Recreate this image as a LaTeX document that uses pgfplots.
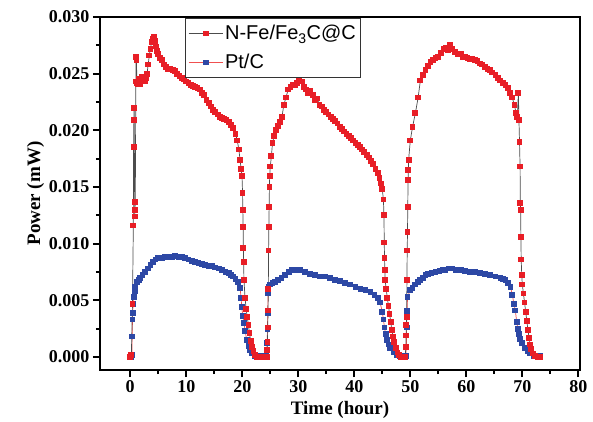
\documentclass[border=0pt]{standalone}
\usepackage{pgfplots}
\pgfplotsset{compat=1.18}
\usepackage{fontspec}
\setmainfont{Liberation Serif}
\newfontfamily\arial{Liberation Sans}
\definecolor{myred}{RGB}{232,30,38}
\definecolor{myblue}{RGB}{45,72,165}
\definecolor{lred}{RGB}{240,80,80}
\begin{document}
\begin{tikzpicture}
\begin{axis}[
  at={(0,0)}, anchor=south west,
  scale only axis, width=480pt, height=353pt,
  xmin=-5.4, xmax=80.3, ymin=-0.00115, ymax=0.030,
  axis line style={line width=2.2pt},
  xtick={0,10,...,80}, ytick={0,0.005,...,0.030},
  minor x tick num=1, minor y tick num=1,
  tick align=outside, tick pos=left,
  major tick length=7pt, minor tick length=4pt,
  every tick/.style={black, line width=1.8pt},
  scaled y ticks=false,
  yticklabel style={/pgf/number format/.cd, fixed, fixed zerofill, precision=3},
  /pgf/number format/assume math mode=true,
  tick label style={font=\fontsize{18}{20}\selectfont\bfseries},
  label style={font=\fontsize{19}{21}\selectfont\bfseries},
  xlabel={Time (hour)}, ylabel={Power (mW)},
  xlabel style={yshift=-2pt},
  ylabel style={yshift=-2pt},
  reverse legend,
  legend style={at={(rel axis cs:0.177,0.997)}, anchor=north west,
    draw=black!80, line width=0.8pt, font=\arial\fontsize{20}{22}\selectfont,
    inner xsep=3pt, inner ysep=5pt, row sep=9pt, cells={anchor=west}},
  legend image code/.code={\draw[mark repeat=2,mark phase=2,#1] plot coordinates {(0pt,0pt) (17pt,0pt) (34pt,0pt)};},
]
\addplot[color=lred, line width=0.7pt, mark=square*, mark size=2.4pt,
  mark options={fill=myblue, draw=myblue, line width=0pt}] coordinates {
(0.2,0.0000)(0.3,0.0002)(0.35,0.0018)(0.4,0.0033)(0.45,0.0039)(0.5,0.0047)(0.6,0.0053)(0.8,0.0058)(0.9,0.0062)(1.2,0.0066)(1.5,0.0068)(1.8,0.0070)(2.2,0.0072)(2.7,0.0075)(3.1,0.0078)(3.6,0.0081)(4.0,0.0084)(4.5,0.0086)(5.0,0.0087)(5.6,0.0087)(6.2,0.0088)(6.8,0.0088)(7.4,0.0088)(8.0,0.0089)(8.6,0.0088)(9.2,0.0088)(9.8,0.0087)(10.4,0.0086)(11.0,0.0085)(11.6,0.0084)(12.2,0.0083)(12.8,0.0082)(13.4,0.0081)(14.0,0.0080)(14.6,0.0080)(15.2,0.0079)(15.8,0.0078)(16.4,0.0077)(17.0,0.0075)(17.6,0.0074)(18.0,0.0072)(18.4,0.0071)(18.8,0.0069)(19.2,0.0066)(19.6,0.0061)(19.8,0.0052)(19.9,0.0044)(20.1,0.0036)(20.3,0.0030)(20.5,0.0023)(20.8,0.0015)(21.1,0.0010)(21.4,0.0006)(21.8,0.0003)(22.2,0.0001)(22.8,0.0001)(23.4,0.0001)(24.0,0.0001)(24.3,0.0001)
(24.4,0.0006)(24.45,0.0012)(24.5,0.0025)(24.55,0.0039)(24.6,0.0056)(24.7,0.0062)(25.0,0.0064)(25.4,0.0065)(25.9,0.0066)(26.4,0.0068)(27.0,0.0070)(27.7,0.0072)(28.3,0.0075)(28.9,0.0077)(29.6,0.0077)(30.4,0.0077)(31.2,0.0075)(32.1,0.0073)(33.0,0.0072)(33.9,0.0071)(34.8,0.0071)(35.7,0.0070)(36.6,0.0068)(37.5,0.0067)(38.4,0.0065)(39.3,0.0064)(40.2,0.0062)(41.1,0.0060)(42.0,0.0059)(42.9,0.0057)(43.6,0.0055)(44.2,0.0052)(44.6,0.0048)(45.0,0.0040)(45.2,0.0033)(45.4,0.0026)(45.6,0.0020)(45.8,0.0015)(46.1,0.0011)(46.4,0.0008)(47.0,0.0004)(47.6,0.0002)(48.2,0.0001)(48.8,0.0001)(49.2,0.0001)
(49.3,0.0009)(49.35,0.0026)(49.4,0.0037)(49.45,0.0041)(49.5,0.0053)(50.0,0.0059)(50.4,0.0061)(50.9,0.0064)(51.4,0.0066)(51.8,0.0068)(52.3,0.0070)(52.7,0.0072)(53.2,0.0073)(53.8,0.0074)(54.5,0.0075)(55.2,0.0076)(55.8,0.0077)(56.3,0.0077)(56.9,0.0078)(57.5,0.0078)(58.2,0.0077)(59.0,0.0077)(59.8,0.0076)(60.7,0.0075)(61.6,0.0075)(62.5,0.0074)(63.4,0.0073)(64.3,0.0072)(65.2,0.0071)(66.1,0.0070)(66.6,0.0069)(67.0,0.0068)(67.5,0.0065)(67.9,0.0062)(68.2,0.0055)(68.5,0.0047)(68.75,0.0041)(69.0,0.0031)(69.2,0.0025)(69.4,0.0020)(69.6,0.0016)(70.0,0.0012)(70.5,0.0008)(71.0,0.0005)(71.4,0.0003)(72.0,0.0001)(72.6,0.0001)(73.2,0.0001)
};
\addlegendentry{Pt/C}
\addplot[color=black!70, line width=0.7pt, mark=square*, mark size=2.4pt,
  mark options={fill=myred, draw=myred, line width=0pt}] coordinates {
(0.0,0.0000)(0.2,0.0002)(0.4,0.0047)(0.55,0.0116)(0.6,0.0185)(0.65,0.0209)(0.7,0.0220)(0.8,0.0124)(0.85,0.0130)(0.9,0.0137)(1.0,0.0243)(1.05,0.0265)(1.1,0.0262)(1.2,0.0242)(1.4,0.0241)(1.6,0.0245)(1.8,0.0241)(2.0,0.0247)(2.2,0.0244)(2.4,0.0247)(2.6,0.0243)(2.8,0.0246)(3.0,0.0250)(3.2,0.0258)(3.4,0.0266)(3.6,0.0272)(3.8,0.0278)(4.0,0.0281)(4.2,0.0282)(4.4,0.0279)(4.6,0.0274)(4.8,0.0270)(5.0,0.0267)(5.3,0.0264)(5.6,0.0262)(6.0,0.0258)(6.4,0.0256)(6.8,0.0254)(7.2,0.0254)(7.6,0.0253)(8.0,0.0252)(8.4,0.0250)(8.8,0.0248)(9.2,0.0246)(9.6,0.0245)(10.0,0.0243)(10.4,0.0242)(10.8,0.0240)(11.2,0.0239)(11.6,0.0238)(12.0,0.0237)(12.4,0.0236)(12.8,0.0233)(13.2,0.0231)(13.6,0.0227)(14.0,0.0224)(14.4,0.0221)(14.8,0.0218)(15.2,0.0216)(15.6,0.0214)(16.0,0.0212)(16.4,0.0211)(16.8,0.0210)(17.2,0.0209)(17.6,0.0207)(18.0,0.0205)(18.4,0.0202)(18.8,0.0197)(19.1,0.0191)(19.4,0.0183)(19.6,0.0174)(19.8,0.0166)(19.95,0.0160)(20.05,0.0145)(20.1,0.0130)(20.15,0.0115)(20.2,0.0096)(20.25,0.0084)(20.3,0.0068)(20.5,0.0052)(20.7,0.0042)(20.9,0.0035)(21.1,0.0028)(21.3,0.0021)(21.5,0.0014)(21.7,0.0009)(22.0,0.0005)(22.3,0.0002)(22.7,0.0000)(23.2,0.0000)(23.7,0.0000)(24.1,0.0000)(24.4,0.0000)
(24.45,0.0006)(24.5,0.0013)(24.55,0.0026)(24.6,0.0041)(24.65,0.0060)(24.7,0.0094)(24.75,0.0115)(24.8,0.0132)(24.85,0.0150)(24.9,0.0160)(25.0,0.0168)(25.2,0.0177)(25.4,0.0189)(25.7,0.0195)(26.0,0.0200)(26.4,0.0204)(26.8,0.0207)(27.1,0.0212)(27.4,0.0222)(27.8,0.0229)(28.2,0.0236)(28.6,0.0238)(29.0,0.0240)(29.4,0.0240)(29.8,0.0242)(30.2,0.0244)(30.6,0.0243)(31.0,0.0238)(31.4,0.0236)(31.8,0.0233)(32.2,0.0235)(32.6,0.0231)(33.0,0.0227)(33.4,0.0228)(33.8,0.0222)(34.2,0.0221)(34.6,0.0218)(35.0,0.0216)(35.4,0.0214)(35.8,0.0212)(36.2,0.0210)(36.6,0.0208)(37.0,0.0206)(37.4,0.0203)(37.8,0.0201)(38.2,0.0199)(38.6,0.0197)(39.0,0.0195)(39.4,0.0193)(39.8,0.0191)(40.2,0.0189)(40.6,0.0187)(41.0,0.0185)(41.4,0.0183)(41.8,0.0181)(42.2,0.0178)(42.6,0.0176)(43.0,0.0173)(43.4,0.0170)(43.8,0.0166)(44.2,0.0162)(44.5,0.0158)(44.8,0.0153)(45.0,0.0148)(45.2,0.0139)(45.3,0.0125)(45.35,0.0101)(45.4,0.0087)(45.45,0.0077)(45.5,0.0068)(45.7,0.0060)(45.9,0.0052)(46.1,0.0045)(46.3,0.0038)(46.5,0.0031)(46.7,0.0024)(46.9,0.0018)(47.1,0.0013)(47.4,0.0008)(47.7,0.0004)(48.0,0.0002)(48.4,0.0000)(48.8,0.0000)(49.1,0.0000)
(49.2,0.0009)(49.25,0.0019)(49.3,0.0028)(49.35,0.0035)(49.4,0.0068)(49.45,0.0094)(49.5,0.0110)(49.55,0.0132)(49.6,0.0156)(49.65,0.0165)(49.7,0.0174)(50.0,0.0191)(50.4,0.0203)(50.9,0.0215)(51.4,0.0229)(51.8,0.0244)(52.2,0.0249)(52.7,0.0253)(53.2,0.0257)(53.6,0.0260)(54.1,0.0262)(54.5,0.0264)(55.0,0.0265)(55.5,0.0268)(56.0,0.0272)(56.3,0.0273)(56.7,0.0271)(57.1,0.0275)(57.5,0.0272)(58.0,0.0269)(58.5,0.0267)(59.0,0.0267)(59.4,0.0265)(59.8,0.0265)(60.2,0.0264)(60.6,0.0263)(61.0,0.0263)(61.6,0.0262)(62.0,0.0261)(62.4,0.0259)(62.8,0.0258)(63.4,0.0256)(63.8,0.0254)(64.2,0.0253)(64.6,0.0251)(65.2,0.0249)(65.6,0.0246)(66.0,0.0244)(66.5,0.0242)(67.0,0.0240)(67.4,0.0237)(67.8,0.0233)(68.2,0.0229)(68.6,0.0222)(68.9,0.0215)(69.1,0.0212)(69.3,0.0233)(69.4,0.0209)(69.5,0.0190)(69.6,0.0168)(69.65,0.0136)(69.7,0.0130)(69.75,0.0106)(69.8,0.0086)(69.9,0.0072)(70.0,0.0064)(70.2,0.0056)(70.4,0.0048)(70.6,0.0040)(70.8,0.0032)(71.0,0.0024)(71.2,0.0017)(71.4,0.0011)(71.6,0.0007)(71.9,0.0003)(72.3,0.0001)(72.7,0.0000)(73.2,0.0000)
};
\addlegendentry{N-Fe/Fe\textsubscript{3}C@C}
\end{axis}
\pgfresetboundingbox
\useasboundingbox (-100pt,-51pt) rectangle (493pt,370pt);
\end{tikzpicture}
\end{document}
